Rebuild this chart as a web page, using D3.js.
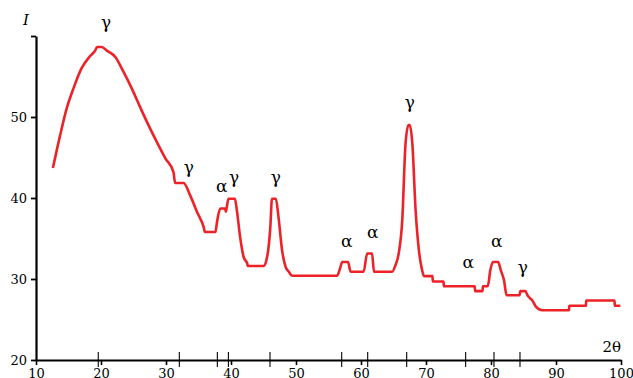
<!DOCTYPE html>
<html>
<head>
<meta charset="utf-8">
<script src="https://cdn.jsdelivr.net/npm/d3@7"></script>
<style>
    body { margin: 0; background: #fff; }
    svg { display: block; }
    .axis path, .axis line { stroke: #000; }
    .axis text { font-family: "DejaVu Serif", serif; font-size: 13px; fill: #000; }
    .phase { font-family: "DejaVu Serif", serif; font-size: 17px; fill: #000; text-anchor: middle; }
</style>
</head>
<body>
<div id="chart"></div>
<script>
// diffraction pattern
const twoTheta = [12.6, 13.7, 14.7, 15.75, 17.0, 18.3, 19.1, 19.4, 20.1, 20.9, 22.2, 23.45, 24.75, 26.0,
    27.3, 28.6, 29.9, 31.15, 31.4, 32.7, 33.7, 34.76, 35.8, 36.0, 37.6, 37.85, 38.35, 39.1, 39.2, 39.6,
    40.6, 40.9, 41.4, 41.95, 42.5, 42.6, 45.0, 45.55, 46.05, 46.3, 46.9, 47.3, 47.85, 48.4, 48.9, 49.4,
    56.3, 56.85, 57.1, 58.0, 58.4, 60.4, 60.95, 61.7, 62.0, 64.8, 65.3, 65.8, 66.35, 66.85, 67.3, 67.5,
    67.9, 68.4, 68.9, 69.4, 69.7, 71.0, 71.05, 72.7, 72.75, 77.5, 77.55, 78.7, 78.75, 79.5, 79.9, 80.3,
    81.1, 81.5, 82.0, 82.4, 84.4, 84.5, 85.3, 85.6, 86.4, 86.9, 87.9, 92.0, 92.05, 94.6, 94.65, 99.0,
    99.05, 99.9];
const intensity = [43.7, 47.7, 51.0, 53.5, 56.0, 57.5, 58.2, 58.65, 58.65, 58.2, 57.4, 55.6, 53.5, 51.25,
    49.0, 46.9, 44.9, 43.2, 41.85, 41.85, 40.35, 38.3, 36.4, 35.8, 35.8, 37.05, 38.7, 38.7, 38.3, 39.9,
    39.9, 38.5, 35.2, 32.7, 31.9, 31.6, 31.6, 32.7, 36.4, 39.9, 39.9, 37.7, 33.6, 31.5, 30.9, 30.4,
    30.4, 31.5, 32.1, 32.1, 30.9, 30.9, 33.15, 33.15, 30.9, 30.9, 31.7, 33.15, 37.3, 46.7, 49.0, 49.0,
    46.7, 38.5, 33.6, 31.1, 30.35, 30.35, 29.7, 29.7, 29.1, 29.1, 28.5, 28.5, 29.1, 29.1, 31.1, 32.1,
    32.1, 31.1, 29.85, 28.0, 28.0, 28.5, 28.5, 28.0, 27.3, 26.6, 26.15, 26.15, 26.7, 26.7, 27.35, 27.35,
    26.7, 26.7];

// phase labels: symbol, 2theta, intensity of the text baseline
const phaseNames = ["γ", "γ", "α", "γ", "γ", "α", "α", "γ", "α", "α", "γ"];
const phaseTheta = [20.77, 33.5, 38.57, 40.46, 46.9, 57.8, 61.8, 67.5, 76.5, 80.9, 84.9];
const phaseLevel = [60.99, 43.09, 40.68, 41.85, 41.85, 34.0, 35.1, 51.1, 31.36, 33.9, 30.74];

// reflection marks on the 2theta axis
const markTheta = [19.58, 32.05, 37.9, 39.6, 46.0, 57.03, 61.03, 67.03, 76.1, 80.46, 84.46];

const xTicks = [10, 20, 30, 40, 50, 60, 70, 80, 90, 100];
const yTicks = [20, 30, 40, 50, 60];

function drawChart() {
    const width = 633, height = 378;

    const svg = d3.select("#chart").append("svg")
        .attr("width", width)
        .attr("height", height);

    const x = d3.scaleLinear().domain([10, 100]).range([36, 621]);
    const y = d3.scaleLinear().domain([20, 60]).range([360, 36]);

    // x axis
    const xAxis = svg.append("g")
        .attr("class", "axis")
        .attr("transform", "translate(0," + y(20) + ")")
        .call(d3.axisBottom(x).tickValues(xTicks).tickSizeInner(5).tickSizeOuter(0).tickPadding(4));
    xAxis.select(".domain").attr("stroke-width", 2.2);
    xAxis.selectAll(".tick line").attr("stroke-width", 1.6);

    // long marks crossing the x axis
    svg.append("g").selectAll("line")
        .data(markTheta)
        .enter().append("line")
        .attr("x1", d => x(d)).attr("x2", d => x(d))
        .attr("y1", y(20) - 8).attr("y2", y(20) + 7)
        .attr("stroke", "#000")
        .attr("stroke-width", 1.1);

    // y axis
    const yAxis = svg.append("g")
        .attr("class", "axis")
        .attr("transform", "translate(" + x(10) + ",0)")
        .call(d3.axisLeft(y).tickValues(yTicks).tickSizeInner(5).tickSizeOuter(0).tickPadding(4)
            .tickFormat(d => d === 60 ? "" : d));
    yAxis.select(".domain").attr("stroke-width", 2.2);
    yAxis.selectAll(".tick line").attr("stroke-width", 1.8);

    // axis titles
    svg.append("text")
        .attr("x", 26).attr("y", 25)
        .attr("text-anchor", "middle")
        .style("font-family", "DejaVu Serif, serif")
        .style("font-style", "italic")
        .style("font-size", "15px")
        .text("I");

    svg.append("text")
        .attr("x", 621).attr("y", 352)
        .attr("text-anchor", "end")
        .style("font-family", "DejaVu Serif, serif")
        .style("font-size", "15px")
        .text("2θ");

    // curve
    const points = twoTheta.map((t, i) => [t, intensity[i]]);
    const line = d3.line()
        .curve(d3.curveMonotoneX)
        .x(d => x(d[0]))
        .y(d => y(d[1]));

    svg.append("path")
        .datum(points)
        .attr("d", line)
        .attr("fill", "none")
        .attr("stroke", "#ec2228")
        .attr("stroke-width", 2.6)
        .attr("stroke-linejoin", "round");

    // phase labels
    svg.append("g").selectAll("text")
        .data(phaseNames)
        .enter().append("text")
        .attr("class", "phase")
        .attr("x", (d, i) => x(phaseTheta[i]))
        .attr("y", (d, i) => y(phaseLevel[i]))
        .text(d => d);
}

drawChart();
</script>
</body>
</html>
